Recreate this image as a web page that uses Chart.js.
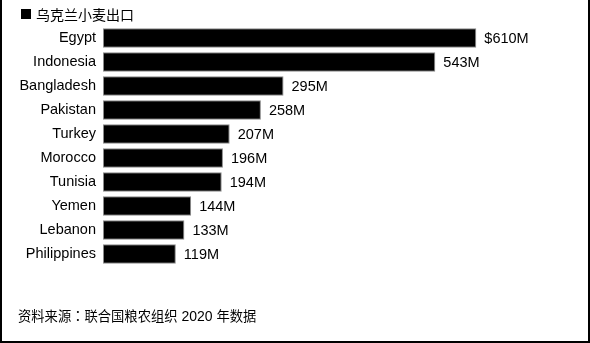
<!DOCTYPE html>
<html>
<head>
<meta charset="utf-8">
<script src="https://cdn.jsdelivr.net/npm/chart.js@4"></script>
<style>
  html, body { margin: 0; padding: 0; background: #fff; }
  #frame {
    position: relative;
    width: 590px;
    height: 343px;
    box-sizing: border-box;
    border-left: 2px solid #000;
    border-right: 2px solid #000;
    border-bottom: 2px solid #000;
    overflow: hidden;
  }
  #chart { position: absolute; left: -2px; top: 0; }
  .title {
    position: absolute; left: 19px; top: 4px;
    font: 14px "Noto Sans CJK SC", sans-serif; color: #000;
    display: flex; align-items: center;
  }
  .title .sq { width: 10px; height: 10px; background: #000; margin-right: 5px; }
  .source {
    position: absolute; left: 16px; top: 306px;
    font: 13.3px "Noto Sans CJK TC", sans-serif; color: #000;
    white-space: pre;
  }
  .source .lat { font: 14px "Liberation Sans", Arial, sans-serif; }
</style>
</head>
<body>
<div id="frame">
  <canvas id="chart" width="590" height="343"></canvas>
  <div class="title"><span class="sq"></span>乌克兰小麦出口</div>
  <div class="source">资料来源：联合国粮农组织<span class="lat"> 2020 </span>年数据</div>
</div>
<script>
const countries = ['Egypt', 'Indonesia', 'Bangladesh', 'Pakistan', 'Turkey', 'Morocco', 'Tunisia', 'Yemen', 'Lebanon', 'Philippines'];
const exports = [610, 543, 295, 258, 207, 196, 194, 144, 133, 119];

const valueLabels = {
    id: 'valueLabels',
    afterDatasetsDraw(chart) {
        const ctx = chart.ctx;
        const meta = chart.getDatasetMeta(0);
        ctx.save();
        ctx.font = '14.5px "Liberation Sans", Arial, sans-serif';
        ctx.fillStyle = '#000';
        ctx.textBaseline = 'middle';
        ctx.textAlign = 'left';
        meta.data.forEach((bar, i) => {
            const text = (i === 0 ? '$' : '') + exports[i] + 'M';
            ctx.fillText(text, bar.x + 8, bar.y + 1);
        });
        ctx.restore();
    }
};

new Chart(document.getElementById('chart'), {
    type: 'bar',
    data: {
        labels: countries,
        datasets: [{
            data: exports,
            backgroundColor: '#000',
            borderColor: '#8a8a8a',
            borderWidth: 1,
            borderSkipped: false,
            barPercentage: 0.82,
            categoryPercentage: 1
        }]
    },
    options: {
        indexAxis: 'y',
        responsive: false,
        animation: false,
        layout: { padding: { top: 26, bottom: 77, left: 0, right: 28 } },
        plugins: {
            legend: { display: false },
            tooltip: { enabled: false }
        },
        scales: {
            x: { display: false, min: 0, max: 750 },
            y: {
                afterFit(scale) { scale.width = 103; },
                grid: { display: false, drawTicks: false },
                border: { display: false },
                ticks: {
                    padding: 7,
                    color: '#000',
                    font: { family: '"Liberation Sans", Arial, sans-serif', size: 14.5 }
                }
            }
        }
    },
    plugins: [valueLabels]
});
</script>
</body>
</html>
